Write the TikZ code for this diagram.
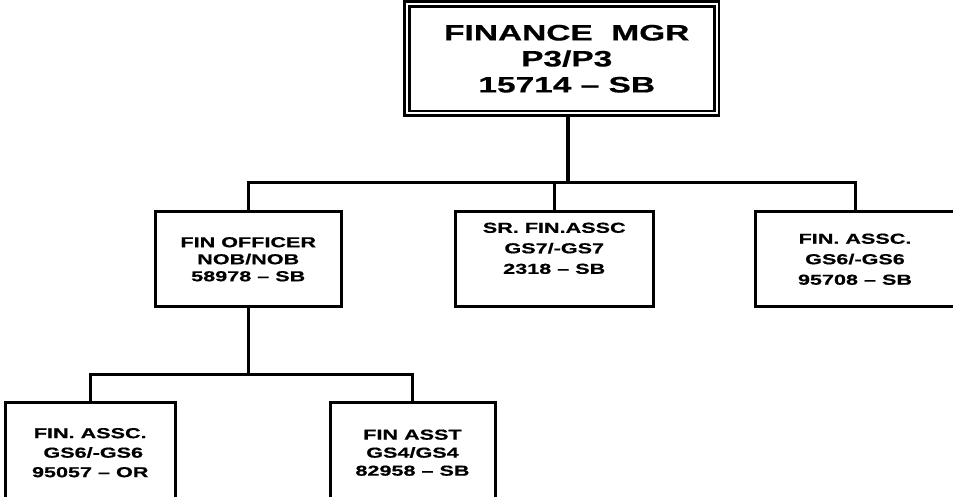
\documentclass[tikz,border=0pt]{standalone}
\usepackage{fontspec}
\setmainfont{Liberation Sans}[FakeStretch=1.5, BoldFeatures={FakeBold=0.6}]

\begin{document}
\begin{tikzpicture}[x=1pt, y=-1pt,
    box/.style={draw, line width=3pt, inner sep=0pt, align=center,
      minimum height=94.5pt, font=\bfseries\fontsize{14.4}{17}\selectfont},
    link/.style={line width=3pt}]
    \useasboundingbox (0,0) rectangle (953,497);

    % top of the chart
    \node (mgr) at (561.75,58.75) [box, double, double distance=2pt, line width=2.8pt, outer sep=3.8pt,
      minimum width=309.5pt, minimum height=109.5pt, font=\bfseries\fontsize{22.3}{26}\selectfont]
      {\hspace*{10pt}FINANCE\ \ MGR\\\hspace*{10pt}P3/P3\\\hspace*{10pt}15714 -- SB};

    % second row
    \node (fo) at (248.25,259.25) [box, minimum width=186.5pt] {FIN OFFICER\\NOB/NOB\\58978 -- SB};
    \node (sr) at (554.25,259.25) [box, minimum width=198.5pt] {SR. FIN.ASSC\\[3.5pt]GS7/-GS7\\[3.5pt]2318 -- SB\\[5pt]};
    \node (fa) at (855,259.25) [box, minimum width=200pt] {FIN. ASSC.\\[3.5pt]GS6/-GS6\\[3.5pt]95708 -- SB};

    % third row
    \node (fa2) at (90.25,452.7) [box, minimum width=170.5pt, minimum height=100pt] {FIN. ASSC.\\[2.5pt]\ GS6/-GS6\\[2.5pt]95057 -- OR};
    \node (asst) at (412.5,452.7) [box, minimum width=165pt, minimum height=100pt] {FIN ASST\\[1pt]GS4/GS4\\[1pt]82958 -- SB};

    \coordinate (hub) at (568,183);
    \coordinate (hub2) at (248.25,374);
    \draw[link, line width=3.5pt] (mgr.south -| hub) -- (hub);
    \draw[link] (fo.north) |- (hub) -| (fa.north);
    \draw[link] (sr.north) -- (sr.north |- hub);
    \draw[link] (fo.south) -- (hub2);
    \draw[link] (fa2.north) |- (hub2) -| (asst.north);
\end{tikzpicture}
\end{document}
